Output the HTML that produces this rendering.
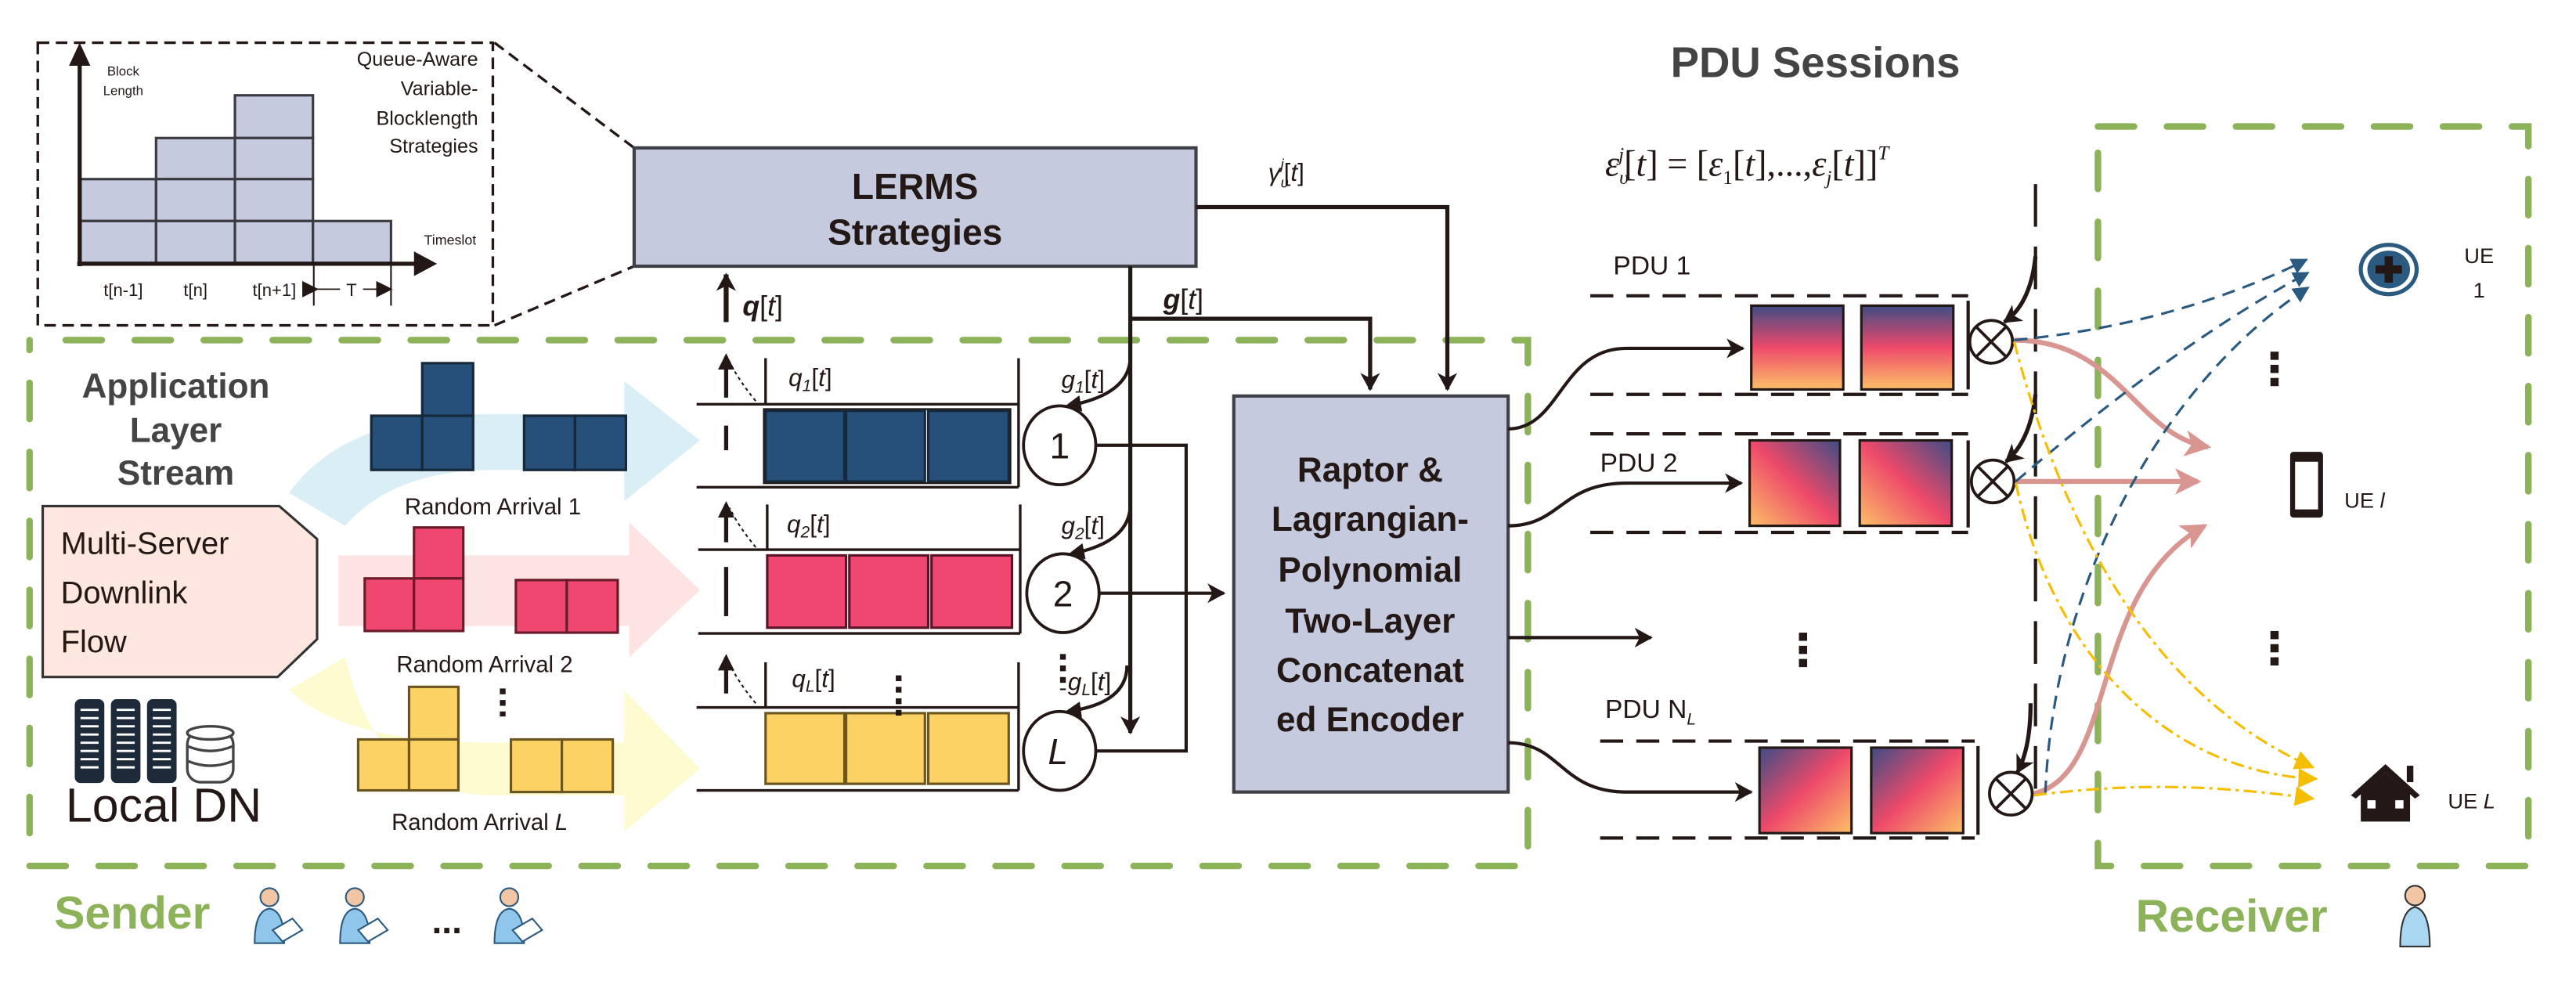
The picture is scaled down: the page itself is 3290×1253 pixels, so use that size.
<!DOCTYPE html>
<html><head><meta charset="utf-8"><style>
html,body{margin:0;padding:0;background:#fff;}
svg{display:block;}
text{font-family:"Liberation Sans Narrow","Liberation Sans",sans-serif;}
.s{font-family:"Liberation Serif",serif;font-style:italic;}
</style></head><body>
<svg width="3290" height="1253" viewBox="0 0 1568 597" preserveAspectRatio="none" xmlns="http://www.w3.org/2000/svg">
<defs>
<marker id="ah" markerWidth="10" markerHeight="10" refX="8" refY="5" orient="auto" markerUnits="userSpaceOnUse"><path d="M0,0 L10,5 L0,10 Z" fill="#231815"/></marker>
<marker id="ao" markerWidth="12" markerHeight="12" refX="10" refY="6" orient="auto" markerUnits="userSpaceOnUse"><path d="M0,0 L11,6 L0,12 L3,6 Z" fill="#231815"/></marker>
<marker id="ap" markerWidth="16" markerHeight="16" refX="14" refY="8" orient="auto" markerUnits="userSpaceOnUse"><path d="M0,0 L16,8 L0,16 L4,8 Z" fill="#d99590"/></marker>
<marker id="ab" markerWidth="10" markerHeight="10" refX="9" refY="5" orient="auto" markerUnits="userSpaceOnUse"><path d="M0,0 L10,5 L0,10 Z" fill="#2b5a80"/></marker>
<marker id="ay" markerWidth="12" markerHeight="12" refX="11" refY="6" orient="auto" markerUnits="userSpaceOnUse"><path d="M0,0 L12,6 L0,12 Z" fill="#f6be00"/></marker>
<linearGradient id="g1" x1="0" y1="0" x2="0" y2="1"><stop offset="0" stop-color="#3d4d85"/><stop offset="0.5" stop-color="#ee4a6a"/><stop offset="1" stop-color="#fcc067"/></linearGradient>
<linearGradient id="g2" x1="1" y1="0" x2="0" y2="1"><stop offset="0" stop-color="#3d4d85"/><stop offset="0.5" stop-color="#ee4a6a"/><stop offset="1" stop-color="#fcc067"/></linearGradient>
<linearGradient id="g3" x1="0" y1="0" x2="1" y2="1"><stop offset="0" stop-color="#3d4d85"/><stop offset="0.5" stop-color="#ee4a6a"/><stop offset="1" stop-color="#fcc067"/></linearGradient>
<g id="pp">
<circle cx="0" cy="-14" r="5.5" fill="#f2c6a4" stroke="#2b5a80" stroke-width="1"/>
<path d="M-9,14 Q-9,-6 0,-7 Q9,-6 9,14 Z" fill="#8fc6ea" stroke="#2b5a80" stroke-width="1"/>
<path d="M2,6 L14,-1 L20,6 L8,13 Z" fill="#fff" stroke="#2b5a80" stroke-width="1"/>
</g>
</defs>

<!-- inset -->
<rect x="23" y="26" width="277" height="172" fill="none" stroke="#231815" stroke-width="1.6" stroke-dasharray="7,4"/>
<path d="M301,26 L386,90 M301,198 L386,162" stroke="#231815" stroke-width="1.6" stroke-dasharray="7,4" fill="none"/>
<g fill="#c5cade" stroke="#3a3a40" stroke-width="1.5">
<rect x="49" y="109" width="46" height="25.5"/><rect x="49" y="134.5" width="46" height="25.5"/>
<rect x="95" y="84" width="48" height="25"/><rect x="95" y="109" width="48" height="25.5"/><rect x="95" y="134.5" width="48" height="25.5"/>
<rect x="143" y="58" width="47.5" height="26"/><rect x="143" y="84" width="47.5" height="25"/><rect x="143" y="109" width="47.5" height="25.5"/><rect x="143" y="134.5" width="47.5" height="25.5"/>
<rect x="190.5" y="134.5" width="47.5" height="25.5"/>
</g>
<line x1="48.5" y1="162" x2="48.5" y2="36" stroke="#231815" stroke-width="2.5"/>
<path d="M42,40 L48.5,26 L55,40 Z" fill="#231815"/>
<line x1="47" y1="160.5" x2="256" y2="160.5" stroke="#231815" stroke-width="2.5"/>
<path d="M252,153 L266,160.5 L252,168 Z" fill="#231815"/>
<text x="75" y="46" font-size="8" text-anchor="middle" fill="#231815">Block</text>
<text x="75" y="58" font-size="8" text-anchor="middle" fill="#231815">Length</text>
<g font-size="12" text-anchor="end" fill="#231815"><text x="291" y="40">Queue-Aware</text><text x="291" y="58">Variable-</text><text x="291" y="76">Blocklength</text><text x="291" y="93">Strategies</text></g>
<text x="274" y="149" font-size="8.5" text-anchor="middle" fill="#231815">Timeslot</text>
<g font-size="10.5" text-anchor="middle" fill="#231815"><text x="75" y="180">t[n-1]</text><text x="119" y="180">t[n]</text><text x="167" y="180">t[n+1]</text><text x="214" y="180">T</text></g>
<path d="M191,160 V186 M238,160 V186" stroke="#231815" stroke-width="1"/>
<path d="M192,176 H207 M221,176 H237" stroke="#231815" stroke-width="0.8" marker-start="url(#ah)" marker-end="url(#ah)"/>

<!-- LERMS -->
<rect x="386" y="90" width="342" height="72" fill="#c5cade" stroke="#404048" stroke-width="2"/>
<text x="557" y="121" font-size="22" font-weight="bold" text-anchor="middle" fill="#231815">LERMS</text>
<text x="557" y="149" font-size="22" font-weight="bold" text-anchor="middle" fill="#231815">Strategies</text>

<!-- green boxes -->
<path d="M40,207 H930 V527 H18 V207" fill="none" stroke="#8db35a" stroke-width="4" stroke-linecap="round" stroke-dasharray="22,20"/>
<path d="M1277,77 H1539 V527 H1277 Z" fill="none" stroke="#8db35a" stroke-width="4" stroke-linecap="round" stroke-dasharray="22,20"/>
<text x="33" y="565" font-size="28" font-weight="bold" fill="#8db35a">Sender</text>
<text x="1300" y="567" font-size="28" font-weight="bold" fill="#8db35a">Receiver</text>

<!-- persons -->
<use href="#pp" x="164" y="560"/><use href="#pp" x="216" y="560"/><use href="#pp" x="310" y="560"/>
<text x="272" y="568" font-size="22" font-weight="bold" text-anchor="middle" fill="#231815">...</text>
<g transform="translate(1470,560)"><circle cx="0" cy="-15" r="6" fill="#f2c6a4" stroke="#333" stroke-width="1"/><path d="M-9,16 Q-9,-6 0,-8 Q9,-6 9,16 Z" fill="#a9d6f0" stroke="#333" stroke-width="1"/></g>

<!-- Application Layer Stream -->
<g font-size="21" font-weight="bold" text-anchor="middle" fill="#444"><text x="107" y="242">Application</text><text x="107" y="269">Layer</text><text x="107" y="295">Stream</text></g>
<path d="M26,308 H170 L193,328 V389 L169,412 H26 Z" fill="#fde7de" stroke="#333" stroke-width="1.5"/>
<g font-size="19" fill="#231815"><text x="37" y="337">Multi-Server</text><text x="37" y="367">Downlink</text><text x="37" y="397">Flow</text></g>
<!-- servers -->
<g fill="#1d2a3a" stroke="#1d2a3a">
<rect x="46" y="426" width="17" height="50" rx="3"/><rect x="68" y="426" width="17" height="50" rx="3"/><rect x="90" y="426" width="17" height="50" rx="3"/>
</g>
<g stroke="#fff" stroke-width="1.4"><path d="M49,432h11M49,437h11M49,442h11M49,447h11M49,452h11M49,457h11M49,462h11M49,467h11M71,432h11M71,437h11M71,442h11M71,447h11M71,452h11M71,457h11M71,462h11M71,467h11M93,432h11M93,437h11M93,442h11M93,447h11M93,452h11M93,457h11M93,462h11M93,467h11"/></g>
<g fill="#fff" stroke="#444" stroke-width="1.6"><rect x="114" y="445" width="28" height="31" rx="8"/><path d="M114,454 Q128,460 142,454 M114,463 Q128,469 142,463"/><ellipse cx="128" cy="446" rx="14" ry="4"/></g>
<text x="40" y="500" font-size="29" fill="#231815">Local DN</text>

<!-- big arrows -->
<path d="M176,300 Q210,252 300,252 L380,252 L380,232 L426,268 L380,305 L380,286 L300,286 Q240,286 210,320 Z" fill="#d9eef5"/>
<path d="M206,338 H383 V318 L426,359 L383,400 V381 H206 Z" fill="#fde3e1"/>
<path d="M176,420 Q210,452 300,452 L380,452 L380,420 L426,468 L380,506 L380,484 L300,484 Q230,484 210,400 Z" fill="#fefbd0"/>

<!-- blocks -->
<g fill="#26507a" stroke="#17283a" stroke-width="1.5">
<rect x="257" y="221" width="31" height="32"/><rect x="226" y="253" width="31" height="33"/><rect x="257" y="253" width="31" height="33"/>
<rect x="319" y="253" width="31" height="33"/><rect x="350" y="253" width="31" height="33"/></g>
<g fill="#ef476f" stroke="#6a1a2a" stroke-width="1.5">
<rect x="252" y="321" width="30" height="31"/><rect x="222" y="352" width="30" height="32"/><rect x="252" y="352" width="30" height="32"/>
<rect x="314" y="353" width="31" height="32"/><rect x="345" y="353" width="31" height="32"/></g>
<g fill="#fdd265" stroke="#6b5520" stroke-width="1.5">
<rect x="249" y="418" width="30" height="32"/><rect x="218" y="450" width="31" height="31"/><rect x="249" y="450" width="30" height="31"/>
<rect x="311" y="450" width="31" height="32"/><rect x="342" y="450" width="31" height="32"/></g>
<g font-size="14" text-anchor="middle" fill="#231815"><text x="300" y="313">Random Arrival 1</text><text x="295" y="409">Random Arrival 2</text><text x="292" y="505">Random Arrival <tspan font-style="italic">L</tspan></text></g>
<path d="M306,419 V436" stroke="#231815" stroke-width="3.5" stroke-dasharray="3.5,3.5"/>

<!-- queues -->
<g stroke="#231815" stroke-width="1.6" fill="none">
<path d="M424,246 H620 M424,296.5 H620 M466,218 V246 M620,218 V296.5"/>
<path d="M425,334.5 H621 M425,385.5 H621 M467,307 V334.5 M621,307 V385.5"/>
<path d="M424,430.5 H620 M424,481 H620 M466,403 V430.5 M620,403 V481"/>
</g>
<g stroke="#231815" stroke-width="1.2">
<rect x="465" y="249" width="150" height="45" fill="none"/></g>
<g fill="#26507a" stroke="#17283a" stroke-width="1.5"><rect x="466" y="250" width="48" height="43"/><rect x="515" y="250" width="48" height="43"/><rect x="565" y="250" width="49" height="43"/></g>
<g fill="#ef476f" stroke="#5a1528" stroke-width="1.5"><rect x="467" y="338" width="48" height="44"/><rect x="517" y="338" width="48" height="44"/><rect x="567" y="338" width="49" height="44"/></g>
<g fill="#fdd265" stroke="#6b5520" stroke-width="1.5"><rect x="466" y="434" width="48" height="43"/><rect x="515" y="434" width="48" height="43"/><rect x="565" y="434" width="49" height="43"/></g>
<g stroke="#231815" stroke-width="2.5" fill="none">
<path d="M442,242 V217" marker-end="url(#ah)"/><path d="M442,259 V274"/>
<path d="M442,330 V307" marker-end="url(#ah)"/><path d="M442,345 V375"/>
<path d="M442,422 V400" marker-end="url(#ah)"/>
</g>
<g stroke="#231815" stroke-width="1" stroke-dasharray="2,2" fill="none"><path d="M460,244 Q450,232 444,220"/><path d="M460,333 Q450,321 444,309"/><path d="M460,428 Q450,416 444,404"/></g>
<g class="s" font-size="15" fill="#231815"><text x="480" y="235">q<tspan font-size="10" dy="3">1</tspan><tspan dy="-3" font-style="normal">[</tspan>t<tspan font-style="normal">]</tspan></text>
<text x="479" y="324">q<tspan font-size="10" dy="3">2</tspan><tspan dy="-3" font-style="normal">[</tspan>t<tspan font-style="normal">]</tspan></text>
<text x="482" y="418">q<tspan font-size="10" dy="3">L</tspan><tspan dy="-3" font-style="normal">[</tspan>t<tspan font-style="normal">]</tspan></text></g>
<path d="M547,411 V436" stroke="#231815" stroke-width="3.5" stroke-dasharray="3.5,3.5"/>
<path d="M647,398 V420" stroke="#231815" stroke-width="3.5" stroke-dasharray="3.5,3.5"/>

<!-- circles -->
<g fill="#fff" stroke="#231815" stroke-width="1.8"><ellipse cx="645" cy="271" rx="22" ry="24"/><ellipse cx="647" cy="361" rx="22" ry="24"/><ellipse cx="645" cy="457" rx="22" ry="24"/></g>
<g class="s" font-size="22" text-anchor="middle" fill="#231815"><text x="645" y="279" font-style="normal">1</text><text x="647" y="369" font-style="normal">2</text><text x="644" y="465">L</text></g>
<g stroke="#231815" stroke-width="2" fill="none">
<path d="M667,271 H722 V457 H667"/>
<path d="M669,361 H745" marker-end="url(#ao)"/>
<path d="M688,162 V446" stroke-width="2.5" marker-end="url(#ao)"/>
<path d="M688,217 Q688,240 650,247" marker-end="url(#ah)"/>
<path d="M688,307 Q688,330 652,337" marker-end="url(#ah)"/>
<path d="M686,405 Q686,428 650,433" marker-end="url(#ah)"/>
<path d="M688,194 H834 V237" stroke-width="2.5" marker-end="url(#ao)"/>
<path d="M728,126 H881 V237" stroke-width="2.5" marker-end="url(#ao)"/>
<path d="M442,196 V167" stroke-width="3" marker-end="url(#ao)"/>
</g>
<g class="s" font-size="15" fill="#231815"><text x="646" y="236">g<tspan font-size="10" dy="3">1</tspan><tspan dy="-3" font-style="normal">[</tspan>t<tspan font-style="normal">]</tspan></text>
<text x="646" y="325">g<tspan font-size="10" dy="3">2</tspan><tspan dy="-3" font-style="normal">[</tspan>t<tspan font-style="normal">]</tspan></text>
<text x="650" y="420">g<tspan font-size="10" dy="3">L</tspan><tspan dy="-3" font-style="normal">[</tspan>t<tspan font-style="normal">]</tspan></text>
<text x="708" y="188" font-weight="bold" font-size="17">g<tspan font-style="normal" font-weight="normal">[</tspan><tspan font-weight="normal">t</tspan><tspan font-style="normal" font-weight="normal">]</tspan></text>
<text x="452" y="192" font-weight="bold" font-size="17">q<tspan font-style="normal" font-weight="normal">[</tspan><tspan font-weight="normal">t</tspan><tspan font-style="normal" font-weight="normal">]</tspan></text>
<text x="772" y="110" font-size="15">γ<tspan font-size="9" dy="4">υ</tspan><tspan font-size="9" dx="-5" dy="-11">j</tspan><tspan dy="7" font-style="normal">[</tspan>t<tspan font-style="normal">]</tspan></text></g>

<!-- Raptor box -->
<rect x="751" y="241" width="167" height="241" fill="#c5cade" stroke="#404048" stroke-width="2"/>
<g font-size="21" font-weight="bold" text-anchor="middle" fill="#231815">
<text x="834" y="293" style="font-family:'Liberation Sans',sans-serif">Raptor &amp;</text><text x="834" y="323" style="font-family:'Liberation Sans',sans-serif">Lagrangian-</text><text x="834" y="354" style="font-family:'Liberation Sans',sans-serif">Polynomial</text><text x="834" y="385" style="font-family:'Liberation Sans',sans-serif">Two-Layer</text><text x="834" y="415" style="font-family:'Liberation Sans',sans-serif">Concatenat</text><text x="834" y="445" style="font-family:'Liberation Sans',sans-serif">ed Encoder</text></g>

<!-- PDU section -->
<text x="1105" y="47" font-size="26" font-weight="bold" text-anchor="middle" fill="#444" style="font-family:'Liberation Sans',sans-serif">PDU Sessions</text>
<text x="977" y="107" class="s" font-size="22" fill="#231815">ε<tspan font-size="12" dy="5">υ</tspan><tspan font-size="12" dx="-6" dy="-14">j</tspan><tspan dy="9" font-style="normal">[</tspan>t<tspan font-style="normal">] = [</tspan>ε<tspan font-size="12" font-style="normal" dy="5">1</tspan><tspan dy="-5" font-style="normal">[</tspan>t<tspan font-style="normal">],...,</tspan>ε<tspan font-size="12" dy="5">j</tspan><tspan dy="-5" font-style="normal">[</tspan>t<tspan font-style="normal">]]</tspan><tspan font-size="12" dy="-10">T</tspan></text>
<path d="M1239,112 V480" stroke="#231815" stroke-width="2" stroke-dasharray="26,12"/>
<g font-size="16" fill="#231815"><text x="982" y="167">PDU 1</text><text x="974" y="287">PDU 2</text><text x="977" y="437">PDU N<tspan font-size="10" font-style="italic" dy="4">L</tspan></text></g>
<g stroke="#231815" stroke-width="2" stroke-dasharray="14,8"><path d="M968,180 H1198 M968,240 H1198 M968,264 H1198 M968,324 H1198 M974,451 H1202 M974,510 H1202"/></g>
<g stroke="#231815" stroke-width="2"><path d="M1198,183 V237 M1198,268 V321 M1204,454 V508"/></g>
<g stroke="#231815" stroke-width="1.5">
<rect x="1066" y="186" width="56" height="51" fill="url(#g1)"/><rect x="1133" y="186" width="56" height="51" fill="url(#g1)"/>
<rect x="1065" y="268" width="55" height="52" fill="url(#g2)"/><rect x="1132" y="268" width="56" height="52" fill="url(#g2)"/>
<rect x="1071" y="455" width="56" height="52" fill="url(#g3)"/><rect x="1139" y="455" width="56" height="52" fill="url(#g3)"/></g>
<g stroke="#231815" stroke-width="2" fill="none">
<path d="M918,261 C950,261 950,212 990,212 L1061,212" marker-end="url(#ao)"/>
<path d="M918,320 C950,320 950,294 990,294 L1060,294" marker-end="url(#ao)"/>
<path d="M918,388 H1005" marker-end="url(#ao)"/>
<path d="M918,452 C950,452 950,482 990,482 L1066,482" marker-end="url(#ao)"/>
<path d="M1239,156 Q1236,185 1220,196" stroke-width="2.5" marker-end="url(#ao)"/>
<path d="M1239,240 Q1236,268 1221,281" stroke-width="2.5" marker-end="url(#ao)"/>
<path d="M1236,428 Q1236,455 1228,470" stroke-width="2.5" marker-end="url(#ao)"/>
</g>
<g fill="#fff" stroke="#231815" stroke-width="1.8">
<circle cx="1212" cy="208" r="13"/><path d="M1203,199 L1221,217 M1221,199 L1203,217"/>
<circle cx="1213" cy="293" r="13"/><path d="M1204,284 L1222,302 M1222,284 L1204,302"/>
<circle cx="1224" cy="483" r="13"/><path d="M1215,474 L1233,492 M1233,474 L1215,492"/></g>
<g fill="#231815"><rect x="1095" y="385" width="5" height="5"/><rect x="1095" y="393" width="5" height="5"/><rect x="1095" y="401" width="5" height="5"/>
<rect x="1382" y="214" width="5" height="5"/><rect x="1382" y="222" width="5" height="5"/><rect x="1382" y="230" width="5" height="5"/>
<rect x="1382" y="384" width="5" height="5"/><rect x="1382" y="392" width="5" height="5"/><rect x="1382" y="400" width="5" height="5"/></g>

<!-- links -->
<g fill="none" stroke="#d99590" stroke-width="3">
<path d="M1226,207 C1290,207 1300,265 1344,272" marker-end="url(#ap)"/>
<path d="M1227,293 H1338" marker-end="url(#ap)"/>
<path d="M1238,483 C1290,470 1270,360 1342,320" marker-end="url(#ap)"/>
</g>
<g fill="none" stroke="#2b5a80" stroke-width="1.5" stroke-dasharray="8,5">
<path d="M1226,207 C1300,200 1360,180 1404,158" marker-end="url(#ab)"/>
<path d="M1227,293 C1300,230 1360,190 1405,166" marker-end="url(#ab)"/>
<path d="M1245,483 C1250,350 1320,230 1405,175" marker-end="url(#ab)"/>
</g>
<g fill="none" stroke="#f6be00" stroke-width="1.5" stroke-dasharray="8,3,2,3">
<path d="M1226,208 C1250,300 1300,420 1408,467" marker-end="url(#ay)"/>
<path d="M1227,294 C1250,400 1320,470 1410,474" marker-end="url(#ay)"/>
<path d="M1238,484 C1300,476 1350,478 1408,486" marker-end="url(#ay)"/>
</g>

<!-- UE icons -->
<ellipse cx="1454" cy="164" rx="17" ry="15" fill="#fff" stroke="#2b5a80" stroke-width="2.5"/>
<ellipse cx="1454" cy="164" rx="13" ry="11.5" fill="#2b5a80"/>
<path d="M1454,156 V172 M1446,164 H1462" stroke="#231815" stroke-width="5"/>
<text x="1509" y="160" font-size="13" text-anchor="middle" fill="#231815">UE</text>
<text x="1509" y="181" font-size="13" text-anchor="middle" fill="#231815">1</text>
<rect x="1394" y="275" width="20" height="40" rx="2" fill="#231815"/><rect x="1397" y="281" width="14" height="29" fill="#fff"/>
<text x="1427" y="309" font-size="13" fill="#231815">UE <tspan font-style="italic">l</tspan></text>
<path d="M1431,484 L1452,465 L1473,484 L1470,486 L1452,470 L1434,486 Z" fill="#231815"/>
<path d="M1437,483 L1452,470 L1467,483 V500 H1437 Z" fill="#231815"/>
<rect x="1465" y="466" width="4" height="10" fill="#231815"/>
<rect x="1441" y="487" width="5" height="5" fill="#fff"/><rect x="1458" y="487" width="5" height="5" fill="#fff"/>
<text x="1490" y="492" font-size="13" fill="#231815">UE <tspan font-style="italic">L</tspan></text>
</svg>
</body></html>
